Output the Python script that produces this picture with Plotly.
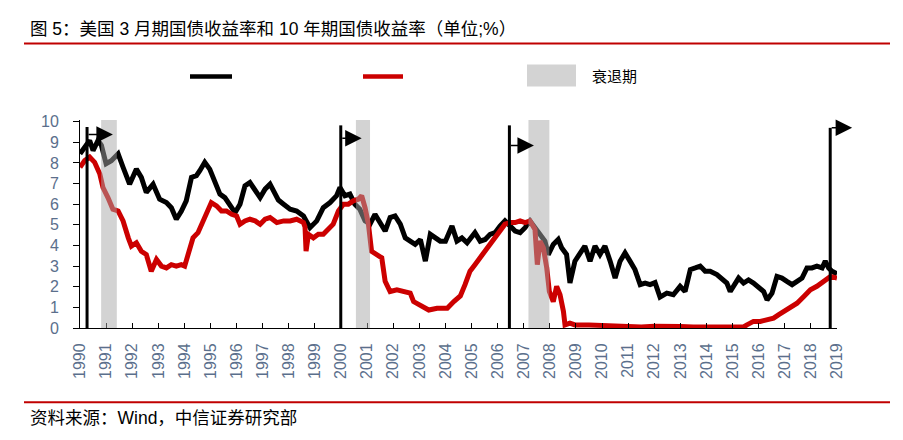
import plotly.graph_objects as go

# chart positions in years
t10_x = [1990.0, 1990.18, 1990.37, 1990.5, 1990.69, 1990.82, 1991.0, 1991.2, 1991.46, 1991.65,
         1991.9, 1992.16, 1992.35, 1992.54, 1992.8, 1993.05, 1993.31, 1993.5, 1993.69, 1993.88,
         1994.07, 1994.27, 1994.46, 1994.59, 1994.78, 1994.97, 1995.16, 1995.36, 1995.55, 1995.74,
         1995.94, 1996.13, 1996.32, 1996.51, 1996.71, 1996.9, 1997.09, 1997.28, 1997.48, 1997.6,
         1997.8, 1998.05, 1998.3, 1998.56, 1998.81, 1999.07, 1999.32, 1999.58, 1999.83, 1999.96,
         2000.15, 2000.34, 2000.53, 2000.72, 2000.92, 2001.11, 2001.3, 2001.5, 2001.69, 2001.88,
         2002.07, 2002.27, 2002.46, 2002.65, 2002.84, 2003.04, 2003.23, 2003.42, 2003.61, 2003.8,
         2004.0, 2004.25, 2004.44, 2004.63, 2004.83, 2005.13, 2005.33, 2005.52, 2005.71, 2005.9,
         2006.09, 2006.28, 2006.48, 2006.67, 2006.86, 2007.05, 2007.24, 2007.43, 2007.62, 2007.81,
         2007.94, 2008.13, 2008.32, 2008.45, 2008.64, 2008.77, 2008.96, 2009.15, 2009.34, 2009.54,
         2009.73, 2009.92, 2010.11, 2010.31, 2010.5, 2010.69, 2010.88, 2011.07, 2011.26, 2011.46,
         2011.65, 2011.84, 2012.03, 2012.22, 2012.48, 2012.73, 2012.99, 2013.18, 2013.38, 2013.57,
         2013.76, 2013.95, 2014.14, 2014.4, 2014.59, 2014.78, 2014.91, 2015.1, 2015.23, 2015.42,
         2015.61, 2015.8, 2016.0, 2016.19, 2016.32, 2016.51, 2016.7, 2016.89, 2017.08, 2017.28,
         2017.47, 2017.66, 2017.85, 2018.04, 2018.23, 2018.43, 2018.55, 2018.68, 2018.81, 2019.0]
t10_y = [8.44, 8.77, 9.09, 8.6, 9.09, 8.85, 7.96, 8.11, 8.44, 7.79,
         6.97, 7.7, 7.3, 6.57, 6.97, 6.24, 6.08, 5.83, 5.27, 5.66,
         6.16, 7.3, 7.38, 7.62, 8.03, 7.7, 7.13, 6.49, 6.32, 6.0,
         5.59, 6.0, 6.89, 7.05, 6.65, 6.32, 6.73, 6.97, 6.49, 6.2,
         6.0, 5.76, 5.67, 5.43, 4.86, 5.19, 5.83, 6.08, 6.41, 6.81,
         6.41, 6.49, 6.0, 5.76, 5.19, 5.03, 5.51, 5.03, 4.7, 5.35,
         5.43, 5.03, 4.37, 4.21, 4.05, 4.29, 3.24, 4.54, 4.37, 4.21,
         4.21, 4.94, 4.21, 4.37, 4.13, 4.62, 4.21, 4.29, 4.54, 4.62,
         4.94, 5.19, 4.94, 4.7, 4.62, 4.86, 5.19, 4.86, 4.54, 4.21,
         3.56, 4.05, 4.29, 3.89, 3.56, 2.18, 3.24, 3.56, 3.97, 3.24,
         3.97, 3.56, 3.97, 3.24, 2.42, 3.24, 3.64, 3.24, 2.83, 2.1,
         2.18, 2.1, 2.2, 1.5, 1.69, 1.61, 2.02, 1.77, 2.83, 2.91,
         3.0, 2.75, 2.75, 2.59, 2.42, 2.18, 1.77, 2.1, 2.42, 2.18,
         2.33, 2.18, 1.93, 1.77, 1.36, 1.69, 2.5, 2.42, 2.26, 2.1,
         2.26, 2.42, 2.91, 2.91, 3.0, 2.91, 3.24, 2.91, 2.75, 2.62]

m3_x = [1990.0, 1990.18, 1990.37, 1990.56, 1990.76, 1990.88, 1991.07, 1991.26, 1991.46, 1991.65,
        1991.85, 1991.97, 1992.16, 1992.35, 1992.54, 1992.67, 1992.73, 1992.93, 1993.12, 1993.31,
        1993.5, 1993.69, 1993.88, 1994.01, 1994.14, 1994.33, 1994.52, 1994.71, 1994.91, 1995.03,
        1995.23, 1995.42, 1995.61, 1995.81, 1996.0, 1996.13, 1996.32, 1996.51, 1996.71, 1996.9,
        1997.09, 1997.28, 1997.54, 1997.8, 1998.05, 1998.3, 1998.56, 1998.62, 1998.66, 1998.75,
        1998.94, 1999.13, 1999.32, 1999.51, 1999.7, 1999.9, 2000.09, 2000.28, 2000.47, 2000.66,
        2000.79, 2000.92, 2001.05, 2001.17, 2001.37, 2001.56, 2001.69, 2001.88, 2002.14, 2002.39,
        2002.65, 2002.78, 2003.04, 2003.36, 2003.68, 2004.07, 2004.32, 2004.57, 2004.75, 2004.94,
        2005.13, 2005.33, 2005.52, 2005.71, 2005.9, 2006.09, 2006.28, 2006.48, 2006.67, 2006.86,
        2007.05, 2007.24, 2007.43, 2007.52, 2007.62, 2007.75, 2007.88, 2007.98, 2008.13, 2008.26,
        2008.39, 2008.52, 2008.58, 2008.77, 2008.96, 2009.5, 2010.0, 2010.5, 2011.0, 2011.5,
        2012.0, 2012.5, 2013.0, 2013.5, 2014.0, 2014.5, 2015.0, 2015.42, 2015.55, 2015.8,
        2016.06, 2016.32, 2016.57, 2016.77, 2016.96, 2017.22, 2017.47, 2017.73, 2017.98, 2018.23,
        2018.49, 2018.75, 2019.0]
m3_y = [7.79, 8.11, 8.28, 8.03, 7.46, 6.81, 6.32, 5.76, 5.67, 5.19,
        4.37, 3.97, 4.13, 3.72, 3.56, 3.07, 2.75, 3.32, 3.0, 2.91,
        3.07, 3.0, 3.07, 3.0, 3.56, 4.37, 4.62, 5.19, 5.67, 6.08,
        5.92, 5.67, 5.67, 5.51, 5.43, 5.03, 5.19, 5.27, 5.19, 5.03,
        5.27, 5.35, 5.11, 5.19, 5.19, 5.27, 5.11, 4.9, 3.72, 4.54,
        4.37, 4.54, 4.54, 4.78, 5.03, 5.67, 6.0, 6.0, 6.16, 6.24,
        6.41, 5.83, 5.03, 3.72, 3.56, 3.4, 2.26, 1.77, 1.85, 1.77,
        1.69, 1.28, 1.12, 0.87, 0.96, 0.96, 1.28, 1.55, 2.1, 2.75,
        3.07, 3.4, 3.72, 4.05, 4.37, 4.7, 5.03, 5.11, 5.11, 5.19,
        5.11, 5.19, 4.78, 3.07, 4.21, 3.89, 2.91, 1.77, 1.28, 2.02,
        1.61, 0.8, 0.15, 0.24, 0.15, 0.15, 0.12, 0.15, 0.12, 0.05,
        0.08, 0.1, 0.07, 0.05, 0.05, 0.03, 0.02, 0.05, 0.15, 0.32,
        0.32, 0.4, 0.48, 0.65, 0.8, 1.04, 1.2, 1.53, 1.85, 2.02,
        2.26, 2.5, 2.42]

recession_start = [1990.81, 2000.57, 2007.18]
recession_end = [1991.41, 2001.11, 2007.98]

# inversion flags: pole position, pole top, arrow height, arrow tip
flag_x = [1990.27, 1999.99, 2006.45, 2018.74]
flag_top = [9.74, 9.82, 9.82, 9.7]
flag_arrow_y = [9.38, 9.2, 8.85, 9.7]
flag_tip = [1991.26, 2000.79, 2007.39, 2019.58]

years = list(range(1990, 2020))
y_ticks = list(range(0, 11))

# the page body adds an 8px margin, so lay out in a frame shifted by that amount
OFF = 8
W, H = 903 - OFF, 440 - OFF
L, R, T, B = 80 - OFF, 837 - OFF, 120.4 - OFF, 328 - OFF
Y_TOP = 10.08


def px(x):
    return (x - OFF - L) / (R - L)


def py(y):
    return (B - (y - OFF)) / (B - T)


fig = go.Figure()
fig.add_trace(go.Scatter(x=t10_x, y=t10_y, mode="lines",
                         line=dict(color="#000000", width=5), showlegend=False))
fig.add_trace(go.Scatter(x=m3_x, y=m3_y, mode="lines",
                         line=dict(color="#cc0000", width=5), showlegend=False))

# flag poles
pole_x, pole_y = [], []
for fx, ft in zip(flag_x, flag_top):
    pole_x += [fx, fx, None]
    pole_y += [0, ft, None]
fig.add_trace(go.Scatter(x=pole_x, y=pole_y, mode="lines",
                         line=dict(color="#000000", width=3), showlegend=False))

shapes = []
for s, e in zip(recession_start, recession_end):
    shapes.append(dict(type="rect", xref="x", yref="y", x0=s, x1=e, y0=0, y1=Y_TOP,
                       fillcolor="rgb(168,168,168)", opacity=0.5, line_width=0, layer="above"))

# header / footer rules
shapes.append(dict(type="line", xref="paper", yref="paper", x0=px(24), x1=px(890),
                   y0=py(44), y1=py(44), line=dict(color="#c00000", width=2)))
shapes.append(dict(type="line", xref="paper", yref="paper", x0=px(24), x1=px(890),
                   y0=py(402), y1=py(402), line=dict(color="#c00000", width=2)))

# legend
shapes.append(dict(type="line", xref="paper", yref="paper", x0=px(190), x1=px(232),
                   y0=py(77), y1=py(77), line=dict(color="#000000", width=4.5)))
shapes.append(dict(type="line", xref="paper", yref="paper", x0=px(363), x1=px(403),
                   y0=py(77), y1=py(77), line=dict(color="#cc0000", width=4.5)))
shapes.append(dict(type="rect", xref="paper", yref="paper", x0=px(527), x1=px(576),
                   y0=py(87), y1=py(65), fillcolor="#d3d3d3", line_width=0))

annotations = []
for fx, fy, tip in zip(flag_x, flag_arrow_y, flag_tip):
    annotations.append(dict(x=tip, y=fy, ax=fx, ay=fy, xref="x", yref="y", axref="x", ayref="y",
                            text="", showarrow=True, arrowhead=2, arrowsize=2.2, arrowwidth=1.5,
                            arrowcolor="#000000", standoff=0, startstandoff=0))

cjk = "Liberation Sans, Arial, Noto Sans CJK SC"
annotations.append(dict(x=px(28), y=py(30), xref="paper", yref="paper", xanchor="left",
                        yanchor="middle", showarrow=False,
                        text="图 5：美国 3 月期国债收益率和 10 年期国债收益率（单位;%）",
                        font=dict(family=cjk, size=17.5, color="#000000")))
annotations.append(dict(x=px(28), y=py(418), xref="paper", yref="paper", xanchor="left",
                        yanchor="middle", showarrow=False, text="资料来源：Wind，中信证券研究部",
                        font=dict(family=cjk, size=17.5, color="#000000")))
annotations.append(dict(x=px(590), y=py(77), xref="paper", yref="paper", xanchor="left",
                        yanchor="middle", showarrow=False, text="衰退期",
                        font=dict(family=cjk, size=15, color="#000000")))

tick_font = dict(family="Liberation Sans, Arial", size=16, color="#5b6f8c")

fig.update_layout(
    width=W, height=H, autosize=False,
    margin=dict(l=L, r=W - R, t=T, b=H - B, pad=0),
    paper_bgcolor="white", plot_bgcolor="white",
    showlegend=False,
    shapes=shapes, annotations=annotations,
    xaxis=dict(range=[1990, 2019], tickvals=years, ticktext=[str(y) for y in years],
               tickangle=-90, tickfont=tick_font, ticks="inside", ticklen=5, tickcolor="#000000",
               showline=True, linecolor="#000000", linewidth=1, showgrid=False, zeroline=False,
               ticklabelstandoff=8),
    yaxis=dict(range=[0, Y_TOP], tickvals=y_ticks, tickfont=tick_font, ticks="outside",
               ticklen=6, tickcolor="#000000", showline=True, linecolor="#000000", linewidth=1,
               showgrid=False, zeroline=False, ticklabelstandoff=11),
)

fig.write_html("out.html")
